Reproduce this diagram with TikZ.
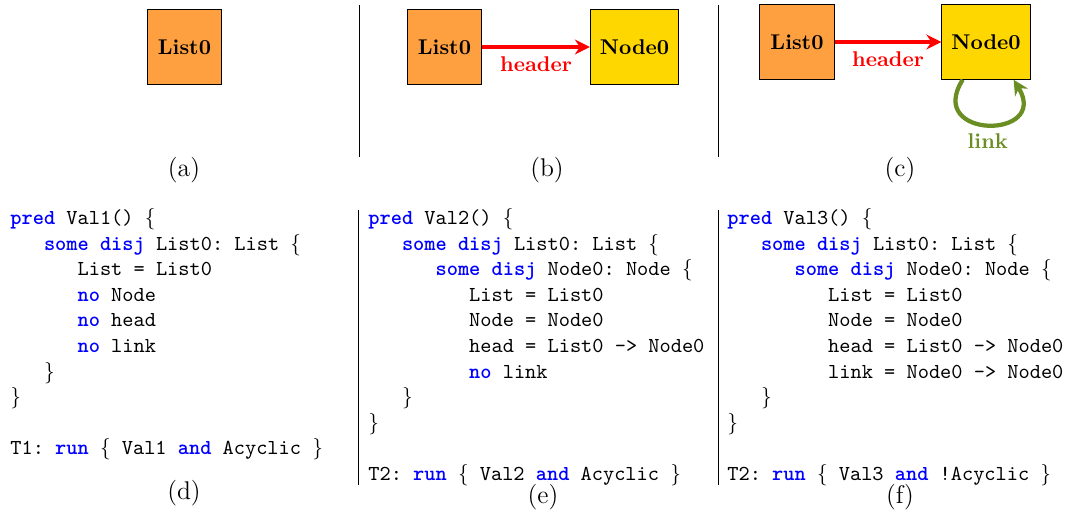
\documentclass[tikz,border=0pt]{standalone}
\usepackage{fontspec}
\setmonofont{lmmono10-regular.otf}[BoldFont=lmmonolt10-bold.otf]
\usepackage{tikz}
\usetikzlibrary{arrows.meta}

\definecolor{listorange}{RGB}{255,160,64}
\definecolor{nodegold}{RGB}{255,215,0}
\definecolor{linkgreen}{RGB}{107,142,35}

% Alloy keywords and braces
\newcommand{\kw}[1]{\textcolor{blue}{\textbf{#1}}}
\newcommand{\lbr}{\(\{\)}
\newcommand{\rbr}{\(\}\)}
\newcommand{\codeindent}{\hspace*{15.75pt}}

\tikzset{
    box/.style={draw, minimum width=35pt, minimum height=35pt, inner sep=4.5pt, font=\bfseries},
    listbox/.style={box, fill=listorange},
    nodebox/.style={box, fill=nodegold},
    header/.style={red, line width=2pt, -{Stealth[length=7pt, width=7pt]}},
    link/.style={linkgreen, line width=2pt, -{Stealth[length=7pt, width=7pt]}},
    code/.style={anchor=north west, align=left, inner sep=0pt, font=\ttfamily},
    caption/.style={font=\large},
    sep/.style={line width=0.4pt}
}

\begin{document}
\begin{tikzpicture}[x=0.4688pt, y=-0.4688pt]
    \useasboundingbox (0,0) rectangle (1071,517);

    % separators
    \draw[sep] (359,5) -- (359,157);
    \draw[sep] (718,5) -- (718,157);
    \draw[sep] (358,210) -- (358,485);
    \draw[sep] (718,210) -- (718,485);

    % (a)
    \node[listbox] (list0A) at (184.5,47) {List0};
    \node[caption] (capA) at (184,170) {(a)};

    % (b)
    \node[listbox] (list0B) at (444.5,47) {List0};
    \node[nodebox] (node0B) at (634.5,47) {Node0};
    \draw[header] (list0B) -- node[below, font=\bfseries] {header} (node0B);
    \node[caption] (capB) at (547,170) {(b)};

    % (c)
    \node[listbox] (list0C) at (797,42) {List0};
    \node[nodebox] (node0C) at (986,42) {Node0};
    \draw[header] (list0C) -- node[below, font=\bfseries] {header} (node0C);
    \draw[link] ([xshift=10pt]node0C.south west) .. controls +(-38,60) and +(37,60) .. node[pos=0.5, below, font=\bfseries] {link} ([xshift=-8pt]node0C.south east);
    \node[caption] (capC) at (900,170) {(c)};

    % (d)
    \node[code] (codeD) at (10,208) {\kw{pred} Val1() \lbr\\
        \codeindent\kw{some} \kw{disj} List0: List \lbr\\
        \codeindent\codeindent List = List0\\
        \codeindent\codeindent\kw{no} Node\\
        \codeindent\codeindent\kw{no} head\\
        \codeindent\codeindent\kw{no} link\\
        \codeindent\rbr\\
        \rbr\\[12pt]
        T1: \kw{run} \lbr{} Val1 \kw{and} Acyclic \rbr};
    \node[caption] (capD) at (184,493) {(d)};

    % (e)
    \node[code] (codeE) at (368,208) {\kw{pred} Val2() \lbr\\
        \codeindent\kw{some} \kw{disj} List0: List \lbr\\
        \codeindent\codeindent\kw{some} \kw{disj} Node0: Node \lbr\\
        \codeindent\codeindent\codeindent List = List0\\
        \codeindent\codeindent\codeindent Node = Node0\\
        \codeindent\codeindent\codeindent head = List0 -> Node0\\
        \codeindent\codeindent\codeindent\kw{no} link\\
        \codeindent\rbr\\
        \rbr\\[12pt]
        T2: \kw{run} \lbr{} Val2 \kw{and} Acyclic \rbr};
    \node[caption] (capE) at (543,497) {(e)};

    % (f)
    \node[code] (codeF) at (727,208) {\kw{pred} Val3() \lbr\\
        \codeindent\kw{some} \kw{disj} List0: List \lbr\\
        \codeindent\codeindent\kw{some} \kw{disj} Node0: Node \lbr\\
        \codeindent\codeindent\codeindent List = List0\\
        \codeindent\codeindent\codeindent Node = Node0\\
        \codeindent\codeindent\codeindent head = List0 -> Node0\\
        \codeindent\codeindent\codeindent link = Node0 -> Node0\\
        \codeindent\rbr\\
        \rbr\\[12pt]
        T2: \kw{run} \lbr{} Val3 \kw{and} !Acyclic \rbr};
    \node[caption] (capF) at (900,497) {(f)};
\end{tikzpicture}
\end{document}
